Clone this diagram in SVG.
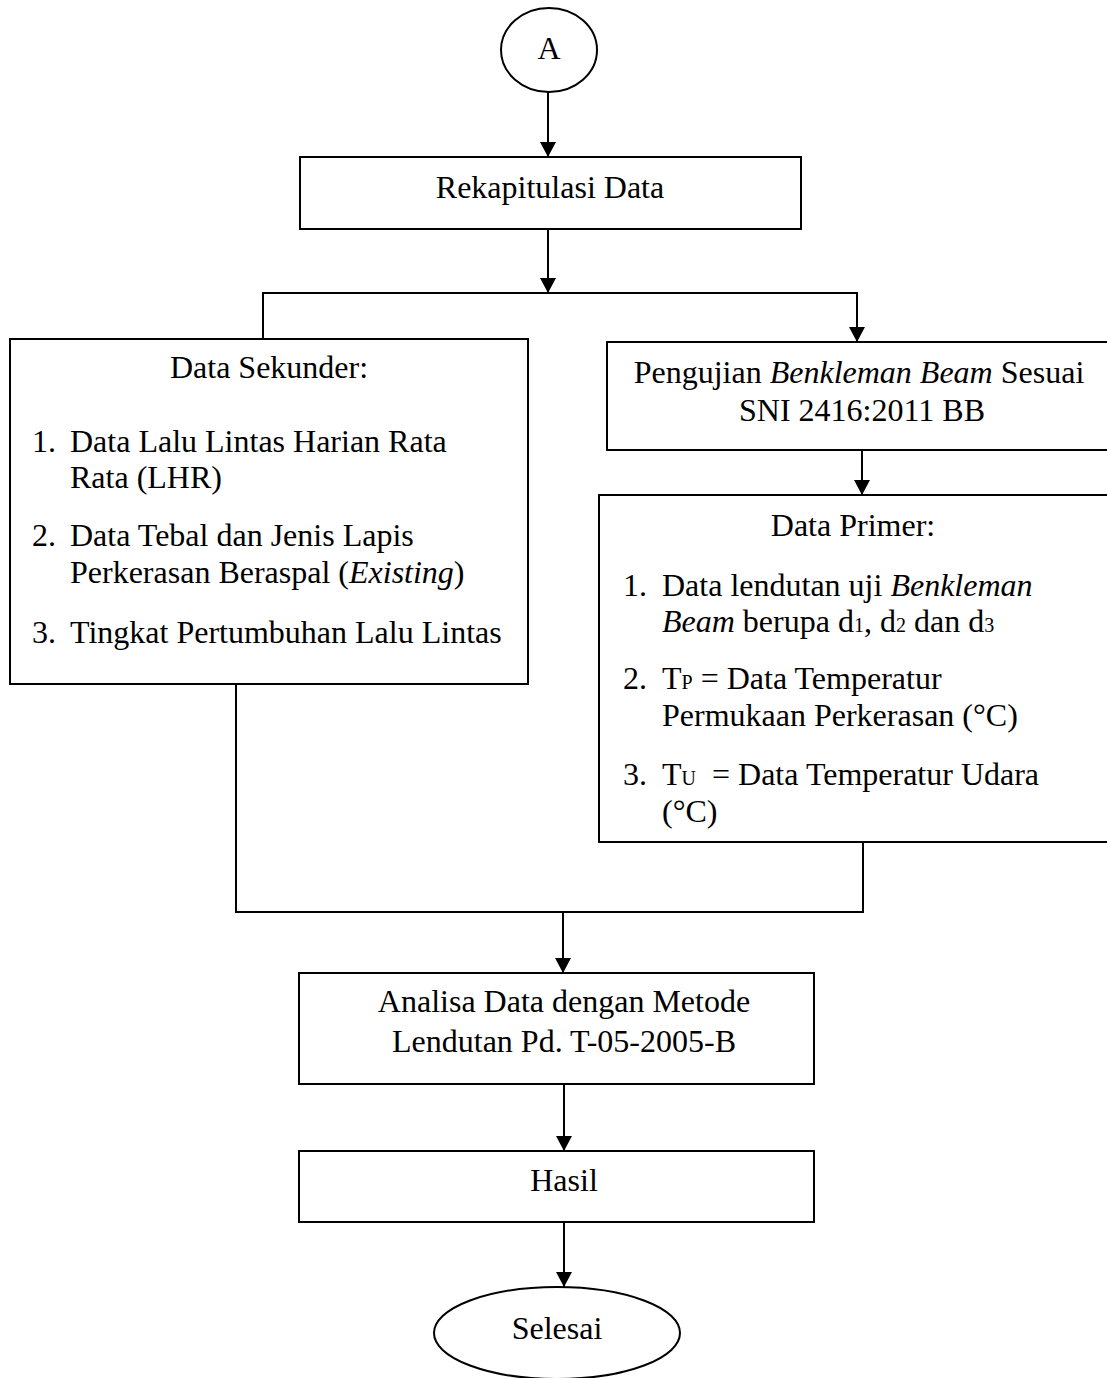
<svg xmlns="http://www.w3.org/2000/svg" width="1107" height="1378" viewBox="0 0 1107 1378">
<style>
.box{fill:#fff;stroke:#000;stroke-width:2}
.ln{fill:none;stroke:#000;stroke-width:2}
.t{font-family:"Liberation Serif","Times New Roman",serif;font-size:32px;fill:#000}
.c{text-anchor:middle}
.s{font-size:20px}
</style>
<defs>
<marker id="ah" markerUnits="userSpaceOnUse" markerWidth="16" markerHeight="16" refX="15" refY="8" orient="auto">
<path d="M0,0 L15,8 L0,16 z" fill="#000"/>
</marker>
</defs>
<rect width="1107" height="1378" fill="#fff"/>
<g id="connectors">
<line class="ln" x1="548" y1="92" x2="548" y2="157" marker-end="url(#ah)"/>
<line class="ln" x1="548" y1="229" x2="548" y2="293" marker-end="url(#ah)"/>
<polyline class="ln" points="263,339 263,293 857,293 857,342" marker-end="url(#ah)"/>
<line class="ln" x1="862" y1="450" x2="862" y2="495" marker-end="url(#ah)"/>
<polyline class="ln" points="236,684 236,912 863,912 863,842"/>
<line class="ln" x1="563" y1="912" x2="563" y2="973" marker-end="url(#ah)"/>
<line class="ln" x1="564" y1="1084" x2="564" y2="1151" marker-end="url(#ah)"/>
<line class="ln" x1="564" y1="1222" x2="564" y2="1287" marker-end="url(#ah)"/>
</g>
<g id="node-a">
<ellipse class="box" cx="549" cy="50" rx="48" ry="42"/>
<text class="t c" x="549" y="59">A</text>
</g>
<g id="node-rekap">
<rect class="box" x="300" y="157" width="501" height="72"/>
<text class="t c" x="550" y="198">Rekapitulasi Data</text>
</g>
<g id="node-sekunder">
<rect class="box" x="10" y="339" width="518" height="345"/>
<text class="t c" x="269" y="378">Data Sekunder:</text>
<text class="t" x="32" y="452">1.</text>
<text class="t" x="70" y="452">Data Lalu Lintas Harian Rata</text>
<text class="t" x="70" y="488">Rata (LHR)</text>
<text class="t" x="32" y="546">2.</text>
<text class="t" x="70" y="546">Data Tebal dan Jenis Lapis</text>
<text class="t" x="70" y="583">Perkerasan Beraspal (<tspan font-style="italic">Existing</tspan>)</text>
<text class="t" x="32" y="643">3.</text>
<text class="t" x="70" y="643">Tingkat Pertumbuhan Lalu Lintas</text>
</g>
<g id="node-pengujian">
<rect class="box" x="607" y="342" width="505" height="108"/>
<text class="t c" x="859" y="383">Pengujian <tspan font-style="italic">Benkleman Beam</tspan> Sesuai</text>
<text class="t c" x="862" y="421">SNI 2416:2011 BB</text>
</g>
<g id="node-primer">
<rect class="box" x="599" y="495" width="513" height="347"/>
<text class="t c" x="853" y="536">Data Primer:</text>
<text class="t" x="623" y="596">1.</text>
<text class="t" x="662" y="596">Data lendutan uji <tspan font-style="italic">Benkleman</tspan></text>
<text class="t" x="662" y="632"><tspan font-style="italic">Beam</tspan> berupa d<tspan class="s">1</tspan>, d<tspan class="s">2</tspan> dan d<tspan class="s">3</tspan></text>
<text class="t" x="623" y="689">2.</text>
<text class="t" x="662" y="689">T<tspan class="s">P</tspan> = Data Temperatur</text>
<text class="t" x="662" y="726">Permukaan Perkerasan (°C)</text>
<text class="t" x="623" y="785">3.</text>
<text class="t" x="662" y="785" xml:space="preserve">T<tspan class="s">U</tspan>  = Data Temperatur Udara</text>
<text class="t" x="662" y="822">(°C)</text>
</g>
<g id="node-analisa">
<rect class="box" x="299" y="973" width="515" height="111"/>
<text class="t c" x="564" y="1012">Analisa Data dengan Metode</text>
<text class="t c" x="564" y="1052">Lendutan Pd. T-05-2005-B</text>
</g>
<g id="node-hasil">
<rect class="box" x="299" y="1151" width="515" height="71"/>
<text class="t c" x="564" y="1191">Hasil</text>
</g>
<g id="node-selesai">
<ellipse class="box" cx="557" cy="1333" rx="123" ry="46"/>
<text class="t c" x="557" y="1339">Selesai</text>
</g>
</svg>
